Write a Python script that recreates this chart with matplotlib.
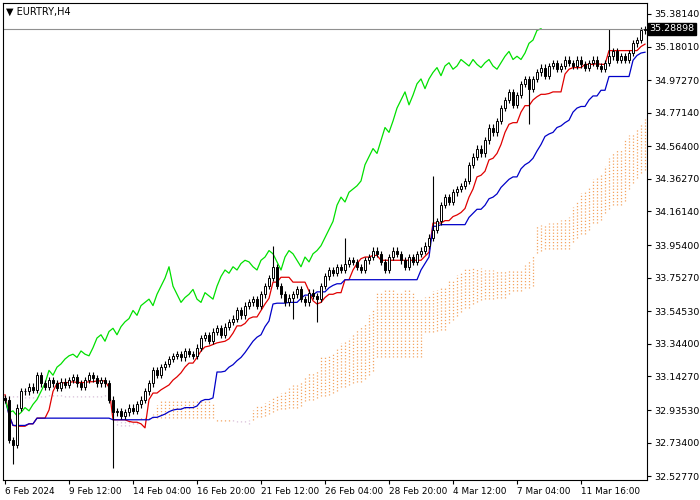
import matplotlib
matplotlib.use("Agg")
import matplotlib.pyplot as plt
import numpy as np
import pandas as pd

pre_close = [33.00,32.98,32.96,32.99,33.02,33.05,33.03,33.00,32.97,32.95,32.93,32.96,33.00,33.04,33.06,33.08,33.05,33.02,33.00,32.98,
             32.97,32.99,33.02,33.05,33.07,33.10,33.08,33.05,33.02,33.00,32.98,32.96,32.95,32.97,33.00,33.03,33.05,33.08,33.10,33.12,
             33.10,33.07,33.04,33.02,33.00,32.98,32.97,32.99,33.01,33.03,33.05,33.04,33.02,33.00,32.98,32.96,32.95,32.97,32.99,33.02,
             33.04,33.06,33.05,33.03,33.01,33.00,32.99,33.00,33.02,33.04,33.05,33.06,33.05,33.04,33.03,33.02,33.02,33.01]
close = [33.00,32.75,32.72,32.95,33.05,33.05,33.08,33.06,33.15,33.10,33.08,33.12,33.10,33.07,33.11,33.09,33.12,33.14,33.10,33.08,
         33.12,33.15,33.13,33.10,33.12,33.10,33.00,32.92,32.93,32.90,32.92,32.95,32.93,32.97,33.00,33.05,33.10,33.18,33.15,33.20,
         33.22,33.25,33.27,33.28,33.26,33.30,33.28,33.27,33.32,33.38,33.40,33.36,33.42,33.44,33.40,33.45,33.48,33.50,33.55,33.52,
         33.58,33.60,33.62,33.58,33.65,33.70,33.75,33.82,33.70,33.65,33.60,33.63,33.65,33.68,33.62,33.60,33.66,33.64,33.62,33.70,
         33.76,33.80,33.78,33.82,33.80,33.84,33.86,33.85,33.82,33.80,33.86,33.88,33.92,33.90,33.85,33.80,33.88,33.92,33.90,33.86,
         33.82,33.88,33.85,33.90,33.92,33.95,34.00,34.05,34.10,34.20,34.25,34.22,34.28,34.30,34.32,34.35,34.45,34.50,34.55,34.52,
         34.60,34.68,34.65,34.72,34.80,34.85,34.90,34.82,34.88,34.95,34.98,34.92,34.98,35.02,35.05,35.00,35.06,35.08,35.04,35.06,
         35.10,35.08,35.06,35.10,35.07,35.05,35.08,35.10,35.06,35.04,35.08,35.12,35.15,35.10,35.12,35.10,35.14,35.20,35.22,35.28,35.29]
spikes = {2: 32.60, 27: 32.58, 67: 33.95, 72: 33.50, 78: 33.48, 85: 34.00, 107: 34.38, 131: 34.70, 151: 35.29}
xlabels = ["6 Feb 2024","9 Feb 12:00","14 Feb 04:00","16 Feb 20:00","21 Feb 12:00","26 Feb 04:00",
           "28 Feb 20:00","4 Mar 12:00","7 Mar 04:00","11 Mar 16:00"]
yticks = [35.38140,35.18010,34.97270,34.77140,34.56400,34.36270,34.16140,33.95400,33.75270,33.54530,
          33.34400,33.14270,32.93530,32.73400,32.52770]
last_price = 35.28898

allc = np.array(pre_close + close)
allo = np.concatenate([[allc[0]], allc[:-1]])
wick = 0.02
allh = np.maximum(allo, allc) + wick
alll = np.minimum(allo, allc) - wick
P = len(pre_close)
for k, v in spikes.items():
    if v > allc[P+k]: allh[P+k] = v
    else: alll[P+k] = v
H = pd.Series(allh); L = pd.Series(alll); C = pd.Series(allc)
tenkan = (H.rolling(9).max() + L.rolling(9).min()) / 2
kijun = (H.rolling(26).max() + L.rolling(26).min()) / 2
spanA = ((tenkan + kijun) / 2).shift(26)
spanB = ((H.rolling(52).max() + L.rolling(52).min()) / 2).shift(26)
chikou = C.shift(-26)

n = len(close)
x = np.arange(n)
sl = slice(P, P + n)

fig = plt.figure(figsize=(7, 5), dpi=100)
ax = fig.add_axes([3/700, 20/500, 644/700, 477/500])
ax.set_facecolor("white")
ax.set_xlim(-0.5, n - 0.5)
ax.set_ylim(32.503, 35.449)

A = spanA.values[sl]; B = spanB.values[sl]
for i in range(n):
    col = "#f4a460" if A[i] >= B[i] else "#d8bfd8"
    lo, hi = min(A[i], B[i]), max(A[i], B[i])
    if hi - lo < 0.01:
        lo -= 0.005; hi += 0.005
    ax.vlines(i, lo, hi, colors=col, linestyles=(0, (1, 1.5)), lw=0.9)
ax.plot(x, tenkan.values[sl], color="#e00000", lw=0.9)
ax.plot(x, kijun.values[sl], color="#0000c8", lw=0.9)
ax.plot(x, chikou.values[sl], color="#00e000", lw=0.9)

o = allo[sl]; c = allc[sl]; h = allh[sl]; l = alll[sl]
ax.vlines(x, l, h, colors="black", lw=0.8)
for i in range(n):
    lo, hi = min(o[i], c[i]), max(o[i], c[i])
    fc = "white" if c[i] >= o[i] else "black"
    ax.add_patch(plt.Rectangle((i - 0.35, lo), 0.7, max(hi - lo, 0.003), fc=fc, ec="black", lw=0.7, zorder=3))

ax.axhline(last_price, color="#909090", lw=0.8)
ax.yaxis.tick_right()
ax.set_yticks(yticks)
ax.set_yticklabels([f"{v:.5f}" for v in yticks], fontsize=6.8)
ax.set_xticks(np.arange(0, 16 * len(xlabels), 16))
ax.set_xticklabels(xlabels, fontsize=6.4, ha="left")
ax.tick_params(length=3, width=0.8, pad=2)
ax.text(1.004, (last_price - 32.503) / (35.449 - 32.503), f"{last_price:.5f}", transform=ax.transAxes,
        fontsize=6.8, color="white", va="center", ha="left",
        bbox=dict(fc="black", ec="black", pad=1.2))
ax.text(0.005, 0.992, "▼ EURTRY,H4", transform=ax.transAxes, fontsize=7, va="top", ha="left")
for s in ax.spines.values():
    s.set_linewidth(0.8)
fig.savefig("out.png", dpi=100)
